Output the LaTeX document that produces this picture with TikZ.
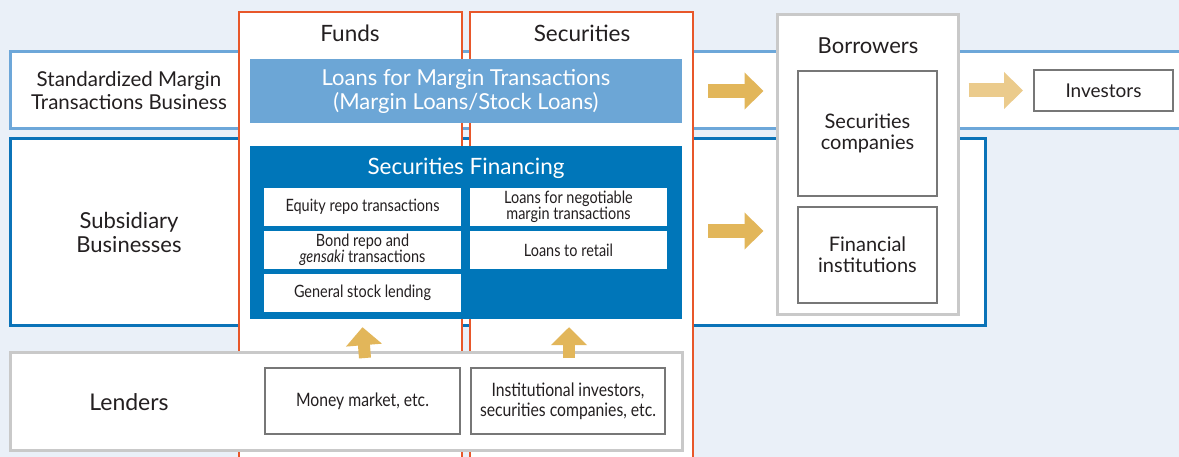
\documentclass[tikz,border=0pt]{standalone}
\usepackage{fontspec}
\setmainfont{Lato}
\newfontfamily\narrowfont[FakeStretch=0.85]{Lato}
\usetikzlibrary{arrows.meta}

\definecolor{bgblue}{HTML}{EAF0F8}
\definecolor{stdblue}{HTML}{6DA7D9}
\definecolor{subblue}{HTML}{0B73B8}
\definecolor{loanblue}{HTML}{6CA6D6}
\definecolor{finblue}{HTML}{0076B9}
\definecolor{colorange}{HTML}{E8572A}
\definecolor{gold}{HTML}{E2B65A}
\definecolor{palegold}{HTML}{EBCB8C}
\definecolor{lightgray}{HTML}{C9C9C9}
\definecolor{midgray}{HTML}{777777}
\definecolor{ink}{HTML}{231F20}

\begin{document}
\begin{tikzpicture}[x=1pt,y=-1pt,
    box/.style={rectangle,inner sep=0pt,align=center,text=ink},
    lbl/.style={align=center,text=ink,font=\fontsize{22}{24}\selectfont},
    rowbox/.style={box,draw=#1,line width=3pt,fill=white},
    column/.style={box,draw=colorange,line width=2.8pt,fill=white,minimum width=223pt,minimum height=458pt},
    itembox/.style={box,fill=white,minimum width=197pt,minimum height=38pt,font=\narrowfont\fontsize{17}{14.5}\selectfont},
    graybox/.style={box,draw=midgray,line width=2pt,fill=white},
    fat/.style={draw=#1,line width=14pt,-{Triangle[length=19pt 0 0,width=36pt 0 0]}},
    fatup/.style={draw=gold,line width=12pt,-{Triangle[length=18pt 0 0,width=35pt 0 0]}}]
  \useasboundingbox (0,0) rectangle (1179,457);
  \fill[bgblue] (0,0) rectangle (1179,457);

  % business rows
  \node[rowbox=stdblue,minimum width=1180pt,minimum height=77pt] (std) at (600,90.5) {};
  \node[rowbox=subblue,minimum width=975pt,minimum height=187pt] (sub) at (497.5,232.5) {};
  \node[lbl,font=\fontsize{20.5}{23}\selectfont] (stdlbl) at (129,91) {Standardized Margin\\Transactions Business};
  \node[lbl] (sublbl) at (129,232) {Subsidiary\\Businesses};

  % funds / securities columns
  \node[column] (funds) at (350.5,241) {};
  \node[column] (secs)  at (581.5,241) {};
  \node[lbl,font=\fontsize{22.5}{24}\selectfont] (fundslbl) at (350,33) {Funds};
  \node[lbl,font=\fontsize{22.5}{24}\selectfont] (secslbl)  at (582,33) {Securities};

  \node[box,fill=loanblue,text=white,minimum width=432pt,minimum height=64pt,
        font=\fontsize{22}{24}\selectfont] (loans) at (466,91)
        {Loans for Margin Transactions\\(Margin Loans/Stock Loans)};
  \node[box,fill=finblue,minimum width=432pt,minimum height=173pt] (sf) at (466,232.5) {};
  \node[box,text=white,font=\fontsize{22.5}{24}\selectfont] (sflbl) at (466,168) {Securities Financing};

  \node[itembox] (equity) at (362.5,207) {Equity repo transactions};
  \node[itembox] (bond)   at (362.5,250) {Bond repo and\\\textit{gensaki} transactions};
  \node[itembox] (stock)  at (362.5,293) {General stock lending};
  \node[itembox] (negot)  at (568.5,207) {Loans for negotiable\\margin transactions};
  \node[itembox] (retail) at (568.5,250) {Loans to retail};

  % lenders
  \node[rowbox=lightgray,minimum width=672pt,minimum height=98pt] (lend) at (346,401) {};
  \node[lbl,font=\fontsize{23}{24}\selectfont] (lendlbl) at (129,402) {Lenders};
  \node[graybox,minimum width=195pt,minimum height=66pt,
        font=\narrowfont\fontsize{18.5}{20}\selectfont] (money) at (362.5,401) {Money market, etc.};
  \node[graybox,minimum width=194pt,minimum height=66pt,
        font=\narrowfont\fontsize{18.5}{20}\selectfont] (inst) at (568,401)
        {Institutional investors,\\securities companies, etc.};

  % borrowers
  \node[rowbox=lightgray,minimum width=181pt,minimum height=300pt] (borrow) at (867.5,165) {};
  \node[lbl] (borrowlbl) at (868,46) {Borrowers};
  \node[graybox,minimum width=139pt,minimum height=125pt,
        font=\fontsize{20}{21}\selectfont] (secco) at (867.5,133.5) {Securities\\companies};
  \node[graybox,minimum width=139pt,minimum height=96pt,
        font=\fontsize{20}{21}\selectfont] (fininst) at (867.5,255) {Financial\\institutions};
  \node[graybox,minimum width=139pt,minimum height=41pt,
        font=\fontsize{19}{21}\selectfont] (invest) at (1103.5,90.5) {Investors};

  % flows
  \draw[fat=gold] ([xshift=26pt]loans.east) -- ([xshift=-12pt]borrow.west |- loans.east);
  \draw[fat=gold] ([xshift=26pt,yshift=1.5pt]sf.east) -- ([xshift=-12pt,yshift=1.5pt]borrow.west |- sf.east);
  \draw[fat=palegold] ([xshift=9pt]borrow.east |- invest.west) -- ([xshift=-10pt]invest.west);
  \draw[fatup] ([xshift=2.5pt,yshift=9pt]money.north) -- ([yshift=-8pt]money.north |- sf.south);
  \draw[fatup] ([xshift=1pt,yshift=9pt]inst.north) -- ([xshift=1pt,yshift=-8pt]inst.north |- sf.south);
\end{tikzpicture}
\end{document}
